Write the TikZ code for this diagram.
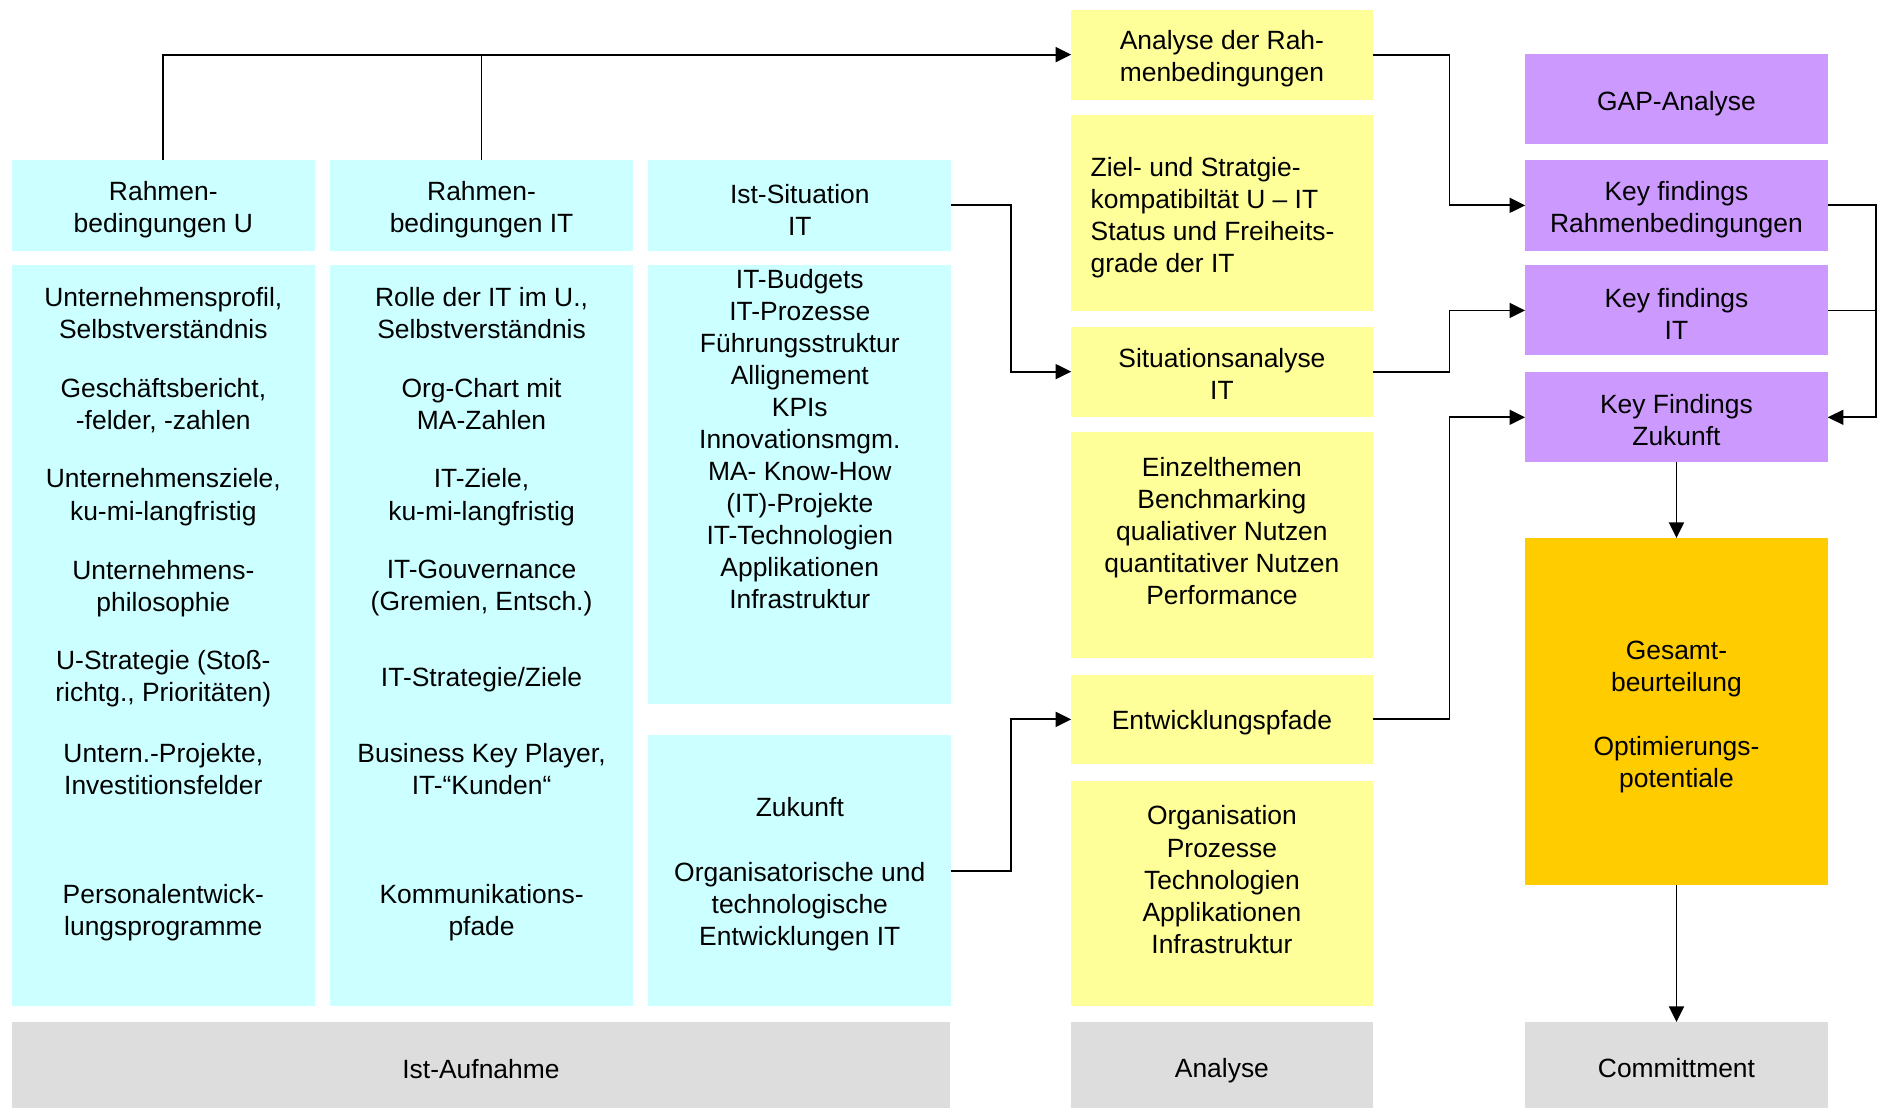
\documentclass[tikz,border=0pt]{standalone}
\usepackage{fontspec}
\setmainfont{Liberation Sans}
\usetikzlibrary{arrows.meta}
\definecolor{cyanbg}{HTML}{CCFFFF}
\definecolor{yellowbg}{HTML}{FFFF99}
\definecolor{purplebg}{HTML}{CC99FF}
\definecolor{orangebg}{HTML}{FFCC00}
\definecolor{graybg}{HTML}{DDDDDD}
\tikzset{
  box/.style={inner sep=0pt, outer sep=0pt},
  cbox/.style={box, fill=cyanbg, minimum width=252pt},
  ybox/.style={box, fill=yellowbg, minimum width=251pt},
  pbox/.style={box, fill=purplebg, minimum width=252pt},
  obox/.style={box, fill=orangebg, minimum width=252pt},
  gbox/.style={box, fill=graybg},
  txt/.style={inner sep=0pt, align=center, font=\fontsize{22}{26.7}\selectfont},
  conn/.style={line width=1.5pt, -{Triangle[length=13pt,width=12.5pt]}},
  plain/.style={line width=1.5pt},
}
\begin{document}
\begin{tikzpicture}[x=1pt, y=-1pt]
\useasboundingbox (0,0) rectangle (1568,925);

% --- Ist-Aufnahme column group ---
\node[cbox, minimum height=76pt] (h1) at (136,171) {};
\node[cbox, minimum height=76pt] (h2) at (401,171) {};
\node[cbox, minimum height=76pt] (h3) at (666,171) {};
\node[txt] (h1t) at ([yshift=-3.5pt]h1.center) {Rahmen-\\bedingungen U};
\node[txt] (h2t) at ([yshift=-3.5pt]h2.center) {Rahmen-\\bedingungen IT};
\node[txt] (h3t) at ([yshift=-3.5pt]h3.center) {Ist-Situation\\IT};

\node[cbox, minimum height=617pt] (b1) at (136,529.5) {};
\node[cbox, minimum height=617pt] (b2) at (401,529.5) {};
\node[cbox, minimum height=365pt] (b3) at (666,403.5) {};
\node[cbox, minimum height=226pt] (b4) at (666,725) {};
\node[txt] (b4t) at ([yshift=-3pt]b4.center) {Zukunft\\[26.7pt]Organisatorische und\\technologische\\Entwicklungen IT};

\node[txt] (t11) at (136,261) {Unternehmensprofil,\\Selbstverständnis};
\node[txt] (t12) at (136,337.5) {Geschäftsbericht,\\-felder, -zahlen};
\node[txt] (t13) at (136,414) {Unternehmensziele,\\ku-mi-langfristig};
\node[txt] (t14) at (136,490) {Unternehmens-\\philosophie};
\node[txt] (t15) at (136,565) {U-Strategie (Stoß-\\richtg., Prioritäten)};
\node[txt] (t16) at (136,640.5) {Untern.-Projekte,\\Investitionsfelder};
\node[txt] (t17) at (136,760) {Personalentwick-\\lungsprogramme};

\node[txt] (t21) at (401,261) {Rolle der IT im U.,\\Selbstverständnis};
\node[txt] (t22) at (401,336.5) {Org-Chart mit\\MA-Zahlen};
\node[txt] (t23) at (401,414) {IT-Ziele,\\ku-mi-langfristig};
\node[txt] (t24) at (401,490) {IT-Gouvernance\\(Gremien, Entsch.)};
\node[txt] (t25) at (401,566) {IT-Strategie/Ziele};
\node[txt] (t26) at (401,640.5) {Business Key Player,\\IT-“Kunden“};
\node[txt] (t27) at (401,760) {Kommunikations-\\pfade};

\node[txt] (t31) at (666,365.5) {IT-Budgets\\IT-Prozesse\\Führungsstruktur\\Allignement\\KPIs\\Innovationsmgm.\\MA- Know-How\\(IT)-Projekte\\IT-Technologien\\Applikationen\\Infrastruktur};

\node[gbox, minimum width=781pt, minimum height=72pt] (ist) at (400.5,887) {};
\node[txt] (istt) at ([yshift=-3pt]ist.center) {Ist-Aufnahme};

% --- Analyse column ---
\node[ybox, minimum height=75pt] (ana1) at (1017.5,45.5) {};
\node[txt] (ana1t) at ([yshift=-3pt]ana1.center) {Analyse der Rah-\\menbedingungen};
\node[ybox, minimum height=163pt] (ziel) at (1017.5,177.5) {};
\node[txt, align=left, anchor=west] (zielt) at (908,181) {Ziel- und Stratgie-\\kompatibiltät U – IT\\Status und Freiheits-\\grade der IT};
\node[ybox, minimum height=75pt] (situ) at (1017.5,309.5) {};
\node[txt] (situt) at ([yshift=-1.5pt]situ.center) {Situationsanalyse\\IT};
\node[ybox, minimum height=188pt] (einz) at (1017.5,454) {};
\node[txt] (einzt) at (1017.5,442.5) {Einzelthemen\\Benchmarking\\qualiativer Nutzen\\quantitativer Nutzen\\Performance};
\node[ybox, minimum height=74pt] (entw) at (1017.5,599) {};
\node[txt] (entwt) at ([yshift=-3pt]entw.center) {Entwicklungspfade};
\node[ybox, minimum height=188pt] (org) at (1017.5,744) {};
\node[txt] (orgt) at (1017.5,732.5) {Organisation\\Prozesse\\Technologien\\Applikationen\\Infrastruktur};
\node[gbox, minimum width=251pt, minimum height=72pt] (anl) at (1017.5,887) {};
\node[txt] (anlt) at ([yshift=-4.5pt]anl.center) {Analyse};

% --- Commitment column ---
\node[pbox, minimum height=75pt] (gap) at (1396,82.5) {};
\node[txt] (gapt) at ([yshift=-4pt]gap.center) {GAP-Analyse};
\node[pbox, minimum height=76pt] (kf1) at (1396,171) {};
\node[txt] (kf1t) at ([yshift=-3.5pt]kf1.center) {Key findings\\Rahmenbedingungen};
\node[pbox, minimum height=75pt] (kf2) at (1396,258.5) {};
\node[txt] (kf2t) at ([yshift=-3pt]kf2.center) {Key findings\\IT};
\node[pbox, minimum height=75pt] (kf3) at (1396,347.5) {};
\node[txt] (kf3t) at ([yshift=-2.5pt]kf3.center) {Key Findings\\Zukunft};
\node[obox, minimum height=289pt] (ges) at (1396,592.5) {};
\node[txt] (gest) at ([yshift=-4.5pt]ges.center) {Gesamt-\\beurteilung\\[26.7pt]Optimierungs-\\potentiale};
\node[gbox, minimum width=252pt, minimum height=72pt] (com) at (1396,887) {};
\node[txt] (comt) at ([yshift=-2.5pt]com.center) {Committment};

% --- connectors ---
\draw[conn] (h1.north) |- (ana1.west);
\draw[plain] (h2.north) -- (h2.north |- ana1.west);
\draw[conn] (h3.east) -- ++(50,0) |- (situ.west);
\draw[conn] (b4.east) -- ++(50,0) |- (entw.west);
\draw[conn] (ana1.east) -- ++(64,0) |- (kf1.west);
\draw[conn] (situ.east) -- ++(64,0) |- (kf2.west);
\draw[conn] (entw.east) -- ++(64,0) |- (kf3.west);
\draw[conn] (kf1.east) -- ++(40,0) |- (kf3.east);
\draw[plain] (kf2.east) -- ++(40,0);
\draw[conn] (kf3.south) -- (ges.north);
\draw[conn] (ges.south) -- (com.north);
\end{tikzpicture}
\end{document}
